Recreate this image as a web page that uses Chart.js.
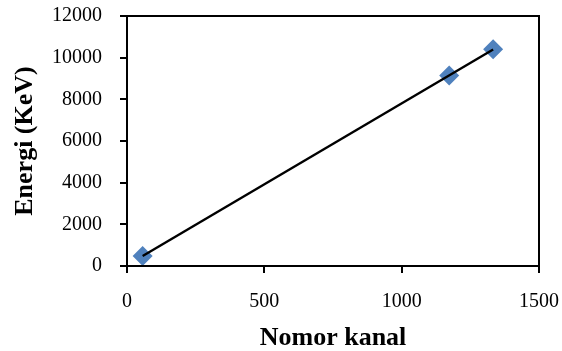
<!DOCTYPE html>
<html>
<head>
<meta charset="utf-8">
<script src="https://cdn.jsdelivr.net/npm/chart.js@4.4.0/dist/chart.umd.min.js"></script>
<style>
  html, body { margin: 0; padding: 0; background: #fff; }
  #wrap { width: 562px; height: 351px; }
</style>
</head>
<body>
<div id="wrap"><canvas id="kalibrasi"></canvas></div>
<script>
// channel number vs gamma energy
const channels = [57, 1173, 1333];
const energies = [480, 9140, 10400];
const xTicks = [0, 500, 1000, 1500];
const yTicks = [0, 2000, 4000, 6000, 8000, 10000, 12000];

// least squares fit for the trendline
function linearFit(xs, ys) {
  const n = xs.length;
  let sx = 0, sy = 0, sxx = 0, sxy = 0;
  for (let i = 0; i < n; i++) {
    sx += xs[i]; sy += ys[i];
    sxx += xs[i] * xs[i]; sxy += xs[i] * ys[i];
  }
  const m = (n * sxy - sx * sy) / (n * sxx - sx * sx);
  const b = (sy - m * sx) / n;
  return { m, b };
}

const fit = linearFit(channels, energies);
const xMin = Math.min(...channels), xMax = Math.max(...channels);
const trend = [
  { x: xMin, y: fit.m * xMin + fit.b },
  { x: xMax, y: fit.m * xMax + fit.b }
];
const points = channels.map((c, i) => ({ x: c, y: energies[i] }));

// box around the plot area
const frame = {
  id: 'frame',
  afterDatasetsDraw(chart) {
    const { ctx, chartArea: a } = chart;
    ctx.save();
    ctx.strokeStyle = '#000';
    ctx.lineWidth = 2;
    ctx.strokeRect(a.left, a.top, a.right - a.left, a.bottom - a.top);
    ctx.restore();
  }
};

const tickFont = { family: '"Liberation Serif", "Times New Roman", serif', size: 20 };
const titleFont = { family: '"Liberation Serif", "Times New Roman", serif', size: 26, weight: 'bold', lineHeight: 1 };
const plain = (v) => String(v);

new Chart(document.getElementById('kalibrasi'), {
  type: 'scatter',
  data: {
    datasets: [
      {
        type: 'line',
        data: trend,
        borderColor: '#000',
        borderWidth: 2.4,
        pointRadius: 0,
        fill: false,
        order: 0
      },
      {
        data: points,
        pointStyle: 'rectRot',
        pointRadius: 10,
        pointBackgroundColor: '#4F81BD',
        pointBorderColor: '#4F81BD',
        pointBorderWidth: 0,
        order: 1
      }
    ]
  },
  options: {
    responsive: true,
    maintainAspectRatio: false,
    animation: false,
    layout: { padding: 0 },
    plugins: { legend: { display: false }, tooltip: { enabled: false } },
    scales: {
      x: {
        type: 'linear',
        min: 0, max: 1500,
        afterBuildTicks: (s) => { s.ticks = xTicks.map(v => ({ value: v })); },
        afterFit: (s) => { s.height = 85; s.paddingRight = 23; },
        border: { color: '#000', width: 2 },
        grid: { drawOnChartArea: false, drawTicks: true, tickLength: 7, tickColor: '#000', lineWidth: 2 },
        ticks: { color: '#000', font: tickFont, padding: 17, maxRotation: 0, callback: plain },
        title: { display: true, text: 'Nomor kanal', color: '#000', font: titleFont, padding: { top: 0, bottom: 0 } }
      },
      y: {
        min: 0, max: 12000,
        afterBuildTicks: (s) => { s.ticks = yTicks.map(v => ({ value: v })); },
        afterFit: (s) => { s.width = 127; s.paddingTop = 16; },
        border: { color: '#000', width: 2 },
        grid: { drawOnChartArea: false, drawTicks: true, tickLength: 7, tickColor: '#000', lineWidth: 2 },
        ticks: { color: '#000', font: tickFont, padding: 18, callback: plain },
        title: { display: true, text: 'Energi (KeV)', color: '#000', font: titleFont, padding: { top: 12, bottom: 0 } }
      }
    }
  },
  plugins: [frame]
});
</script>
</body>
</html>
